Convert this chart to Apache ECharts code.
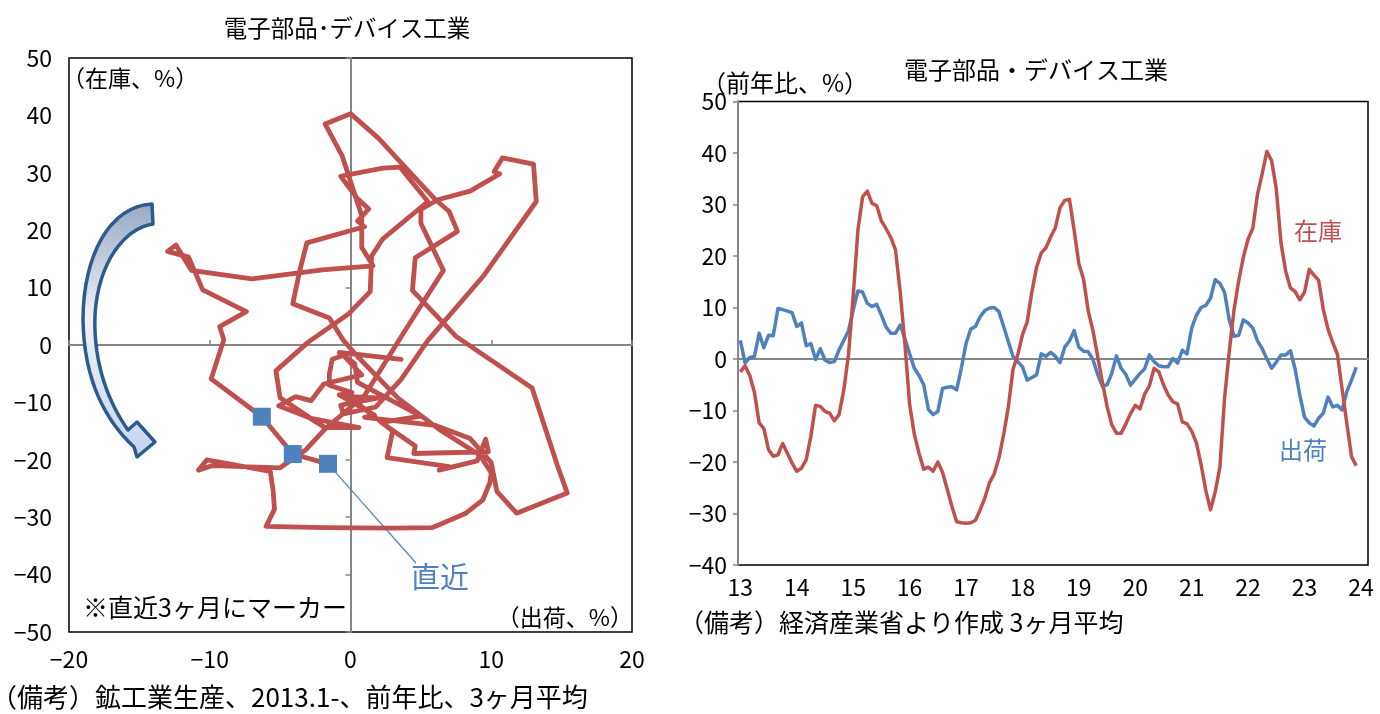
<!DOCTYPE html>
<html>
<head>
<meta charset="utf-8">
<script src="https://cdn.jsdelivr.net/npm/echarts/dist/echarts.min.js"></script>
<style>
html, body { margin: 0; padding: 0; background: #fff; }
#main { width: 1380px; height: 714px; }
</style>
</head>
<body>
<div id="main"></div>
<script>
// 電子部品・デバイス工業 前年比(%) 3ヶ月平均, 2013.1〜2023.12
const shipment = [
  3.6, -0.8, 0.3, 0.5, 5.0, 2.2, 4.6, 4.5, 9.8, 9.6,
  9.3, 9.0, 6.3, 7.0, 2.6, 3.0, -0.1, 2.0, -0.2, -0.7,
  -0.5, 1.8, 3.6, 5.5, 9.5, 13.2, 13.0, 10.8, 10.2, 10.6,
  8.5, 6.2, 5.0, 5.0, 6.6, 4.0, 1.0, -1.8, -3.2, -5.0,
  -9.8, -10.8, -10.2, -5.7, -5.5, -5.4, -6.0, -1.8, 3.0, 5.8,
  6.3, 8.2, 9.4, 9.9, 10.0, 9.2, 6.3, 3.4, 0.5, -0.5,
  -1.5, -4.1, -3.6, -3.1, 1.0, 0.5, 1.3, 0.5, -0.7, 2.3,
  3.5, 5.5, 2.3, 1.5, 1.4, -0.1, -3.0, -5.3, -5.0, -2.8,
  0.6, -1.8, -3.0, -5.1, -3.9, -2.8, -1.9, 0.8, -0.5, -1.3,
  -1.5, -1.5, 0.1, -0.8, 1.7, 1.0, 6.0, 8.5, 10.0, 10.4,
  11.8, 15.4, 14.7, 12.9, 7.5, 4.4, 4.6, 7.6, 7.0, 6.0,
  3.5, 2.0, 0.0, -1.8, -0.6, 0.8, 0.8, 1.6, -2.0, -7.0,
  -11.3, -12.4, -13.0, -11.5, -10.5, -7.4, -9.3, -9.0, -9.9, -6.3,
  -4.1, -1.6
]
const inventory = [
  -2.5, -1.3, -3.2, -6.5, -12.4, -13.5, -17.6, -18.9, -18.6, -16.4,
  -18.3, -20.2, -21.8, -21.2, -19.6, -15.0, -9.0, -9.2, -10.2, -10.5,
  -12.0, -10.8, -6.0, 0.8, 12.2, 25.0, 31.5, 32.6, 30.2, 29.8,
  26.8, 25.3, 23.6, 21.2, 13.0, 3.0, -8.8, -14.6, -18.3, -21.4,
  -21.0, -21.8, -20.0, -22.0, -25.3, -28.6, -31.6, -31.8, -31.9, -31.8,
  -31.3, -29.3, -27.0, -24.0, -22.3, -19.2, -14.7, -9.3, -2.0, 0.8,
  4.7, 7.2, 13.0, 17.8, 20.6, 21.6, 23.7, 25.5, 29.4, 30.8,
  31.0, 25.0, 18.5, 15.5, 9.3, 5.5, 0.5, -4.5, -9.2, -12.8,
  -14.4, -14.4, -12.6, -10.6, -9.0, -9.7, -6.8, -5.2, -1.8, -2.5,
  -5.0, -7.0, -8.3, -8.7, -12.2, -12.6, -14.0, -16.3, -20.5, -25.5,
  -29.3, -25.8, -21.0, -7.5, 1.5, 9.5, 15.2, 19.8, 23.3, 25.4,
  32.0, 36.0, 40.3, 38.5, 33.0, 22.5, 17.0, 13.8, 13.1, 11.5,
  13.0, 17.4, 16.3, 15.3, 9.6, 5.8, 3.2, 0.9, -5.9, -12.5,
  -19.0, -20.7
]
const yearLabels = ['13', '14', '15', '16', '17', '18', '19', '20', '21', '22', '23', '24']

// 月のカテゴリ（右グラフ横軸、24年2月まで）
const months = []
yearLabels.forEach(y => {
  for (let m = 1; m <= 12; m++) months.push(y + '.' + m)
})
const categories = months.slice(0, 134)

const FONT = "'Noto Sans CJK JP', sans-serif"
const RED = '#C0504D'
const BLUE = '#4F81BD'
const GRAY = '#868686'
const AXIS_FS = 23

const n = shipment.length
const pathData = shipment.map((x, i) => [x, inventory[i]])
const recent = pathData.slice(n - 3) // 直近3ヶ月にマーカー

const minus = v => String(v).replace('-', '−')

const txt = (text, x, y, size, opt) => ({
  type: 'text', x: x, y: y, silent: true,
  style: Object.assign({
    text: text, fontSize: size, fontFamily: FONT, fill: '#000',
    align: 'left', verticalAlign: 'middle'
  }, opt || {})
})

// 矢印の輪郭（装飾）: 3次ベジェを折れ線にする
function bez(pts, p0, c1, c2, p1) {
  for (let k = 1; k <= 16; k++) {
    const t = k / 16, u = 1 - t
    pts.push([
      u * u * u * p0[0] + 3 * u * u * t * c1[0] + 3 * u * t * t * c2[0] + t * t * t * p1[0],
      u * u * u * p0[1] + 3 * u * u * t * c1[1] + 3 * u * t * t * c2[1] + t * t * t * p1[1]
    ])
  }
}
const arrow = [[152, 204], [153, 224]]
bez(arrow, [153, 224], [125, 228], [98, 262], [95, 315])
bez(arrow, [95, 315], [93, 365], [110, 405], [128, 430])
arrow.push([137, 422], [155, 442], [137, 457], [134, 447])
bez(arrow, [134, 447], [105, 420], [84, 380], [83, 320])
bez(arrow, [83, 320], [83, 255], [110, 206], [152, 204])

const graphics = [
  txt('電子部品･デバイス工業', 347, 28, 23.5, {align: 'center'}),
  txt('（在庫、%）', 62, 78, 23),
  txt('（出荷、%）', 633, 617, 23, {align: 'right'}),
  txt('※直近3ヶ月にマーカー', 83, 607, 25),
  txt('直近', 411, 577, 29, {fill: BLUE}),
  txt('（備考）鉱工業生産、2013.1-、前年比、3ヶ月平均', -9, 697, 26),
  txt('電子部品・デバイス工業', 1036, 70, 24, {align: 'center'}),
  txt('（前年比、%）', 702, 83, 24),
  txt('（備考）経済産業省より作成 3ヶ月平均', 679, 622, 25),
  txt('在庫', 1294, 231, 24, {fill: RED}),
  txt('出荷', 1279, 450, 24, {fill: BLUE}),
  {
    type: 'polygon', silent: true, z: 10,
    shape: {points: arrow},
    style: {
      fill: new echarts.graphic.LinearGradient(0, 0, 0, 1, [
        {offset: 0, color: '#97A8C4'},
        {offset: 0.45, color: '#EEF2F8'},
        {offset: 1, color: '#C5D5F0'}
      ]),
      stroke: '#2D5B8C', lineWidth: 3.5, lineJoin: 'round'
    }
  }
]

const myChart = echarts.init(document.getElementById('main'))

const option = {
  animation: false,
  textStyle: {fontFamily: FONT},
  grid: [
    {left: 69, top: 58, width: 563, height: 574, show: true, borderColor: '#000', borderWidth: 1.5},
    {left: 738, top: 101.5, width: 630, height: 463.5, show: true, borderColor: '#000', borderWidth: 1.5}
  ],
  xAxis: [
    { // 出荷（ラベル）
      gridIndex: 0, type: 'value', min: -20, max: 20, interval: 10, position: 'bottom',
      axisLine: {show: false, onZero: false}, axisTick: {show: false}, splitLine: {show: false},
      axisLabel: {fontSize: AXIS_FS, color: '#000', margin: 16, formatter: minus}
    },
    { // ゼロ線
      gridIndex: 0, type: 'value', min: -20, max: 20, interval: 10, position: 'top',
      axisLine: {show: true, onZero: true, lineStyle: {color: GRAY, width: 2}},
      axisTick: {show: true, length: 5, lineStyle: {color: GRAY, width: 1.5}},
      axisLabel: {show: false}, splitLine: {show: false}
    },
    {
      gridIndex: 1, type: 'category', data: categories, boundaryGap: true, position: 'bottom',
      axisLine: {show: false, onZero: false}, axisTick: {show: false},
      axisLabel: {
        fontSize: AXIS_FS, color: '#000', margin: 11,
        interval: idx => idx % 12 === 0,
        formatter: v => v.split('.')[0]
      }
    },
    {
      gridIndex: 1, type: 'category', data: categories, boundaryGap: true, position: 'top',
      axisLine: {show: true, onZero: true, lineStyle: {color: GRAY, width: 2}},
      axisTick: {show: false}, axisLabel: {show: false}
    }
  ],
  yAxis: [
    { // 在庫（ラベル）
      gridIndex: 0, type: 'value', min: -50, max: 50, interval: 10, position: 'left',
      axisLine: {show: false, onZero: false}, axisTick: {show: false}, splitLine: {show: false},
      axisLabel: {fontSize: AXIS_FS, color: '#000', margin: 17, formatter: minus}
    },
    {
      gridIndex: 0, type: 'value', min: -50, max: 50, interval: 10, position: 'right',
      axisLine: {show: true, onZero: true, lineStyle: {color: GRAY, width: 2}},
      axisTick: {show: true, inside: true, length: 5, lineStyle: {color: GRAY, width: 1.5}},
      axisLabel: {show: false}, splitLine: {show: false}
    },
    {
      gridIndex: 1, type: 'value', min: -40, max: 50, interval: 10, position: 'left',
      axisLine: {show: true, onZero: false, lineStyle: {color: GRAY, width: 2}},
      axisTick: {show: true, length: 5, lineStyle: {color: GRAY, width: 1.5}},
      splitLine: {show: false},
      axisLabel: {fontSize: AXIS_FS, color: '#000', margin: 11, formatter: minus}
    }
  ],
  series: [
    {
      name: '在庫・出荷', type: 'line', xAxisIndex: 0, yAxisIndex: 0,
      data: pathData, symbol: 'none', smooth: false, z: 3,
      lineStyle: {color: RED, width: 4.8, join: 'round', cap: 'round'}
    },
    {
      name: '直近', type: 'scatter', xAxisIndex: 0, yAxisIndex: 0,
      data: recent, symbol: 'rect', symbolSize: 18, z: 4,
      itemStyle: {color: BLUE, opacity: 1}
    },
    {
      name: '出荷', type: 'line', xAxisIndex: 2, yAxisIndex: 2,
      data: shipment, symbol: 'none', z: 3,
      lineStyle: {color: BLUE, width: 3.5, join: 'round'}
    },
    {
      name: '在庫', type: 'line', xAxisIndex: 2, yAxisIndex: 2,
      data: inventory, symbol: 'none', z: 4,
      lineStyle: {color: RED, width: 3.5, join: 'round'}
    }
  ],
  graphic: graphics
}

myChart.setOption(option)

// 「直近」の引き出し線
const p = myChart.convertToPixel({xAxisIndex: 0, yAxisIndex: 0}, recent[recent.length - 1])
option.graphic = graphics.concat([{
  type: 'line', silent: true, z: 1,
  shape: {x1: p[0], y1: p[1], x2: 416, y2: 563},
  style: {stroke: BLUE, lineWidth: 1.2}
}])
myChart.setOption(option, true)
</script>
</body>
</html>
